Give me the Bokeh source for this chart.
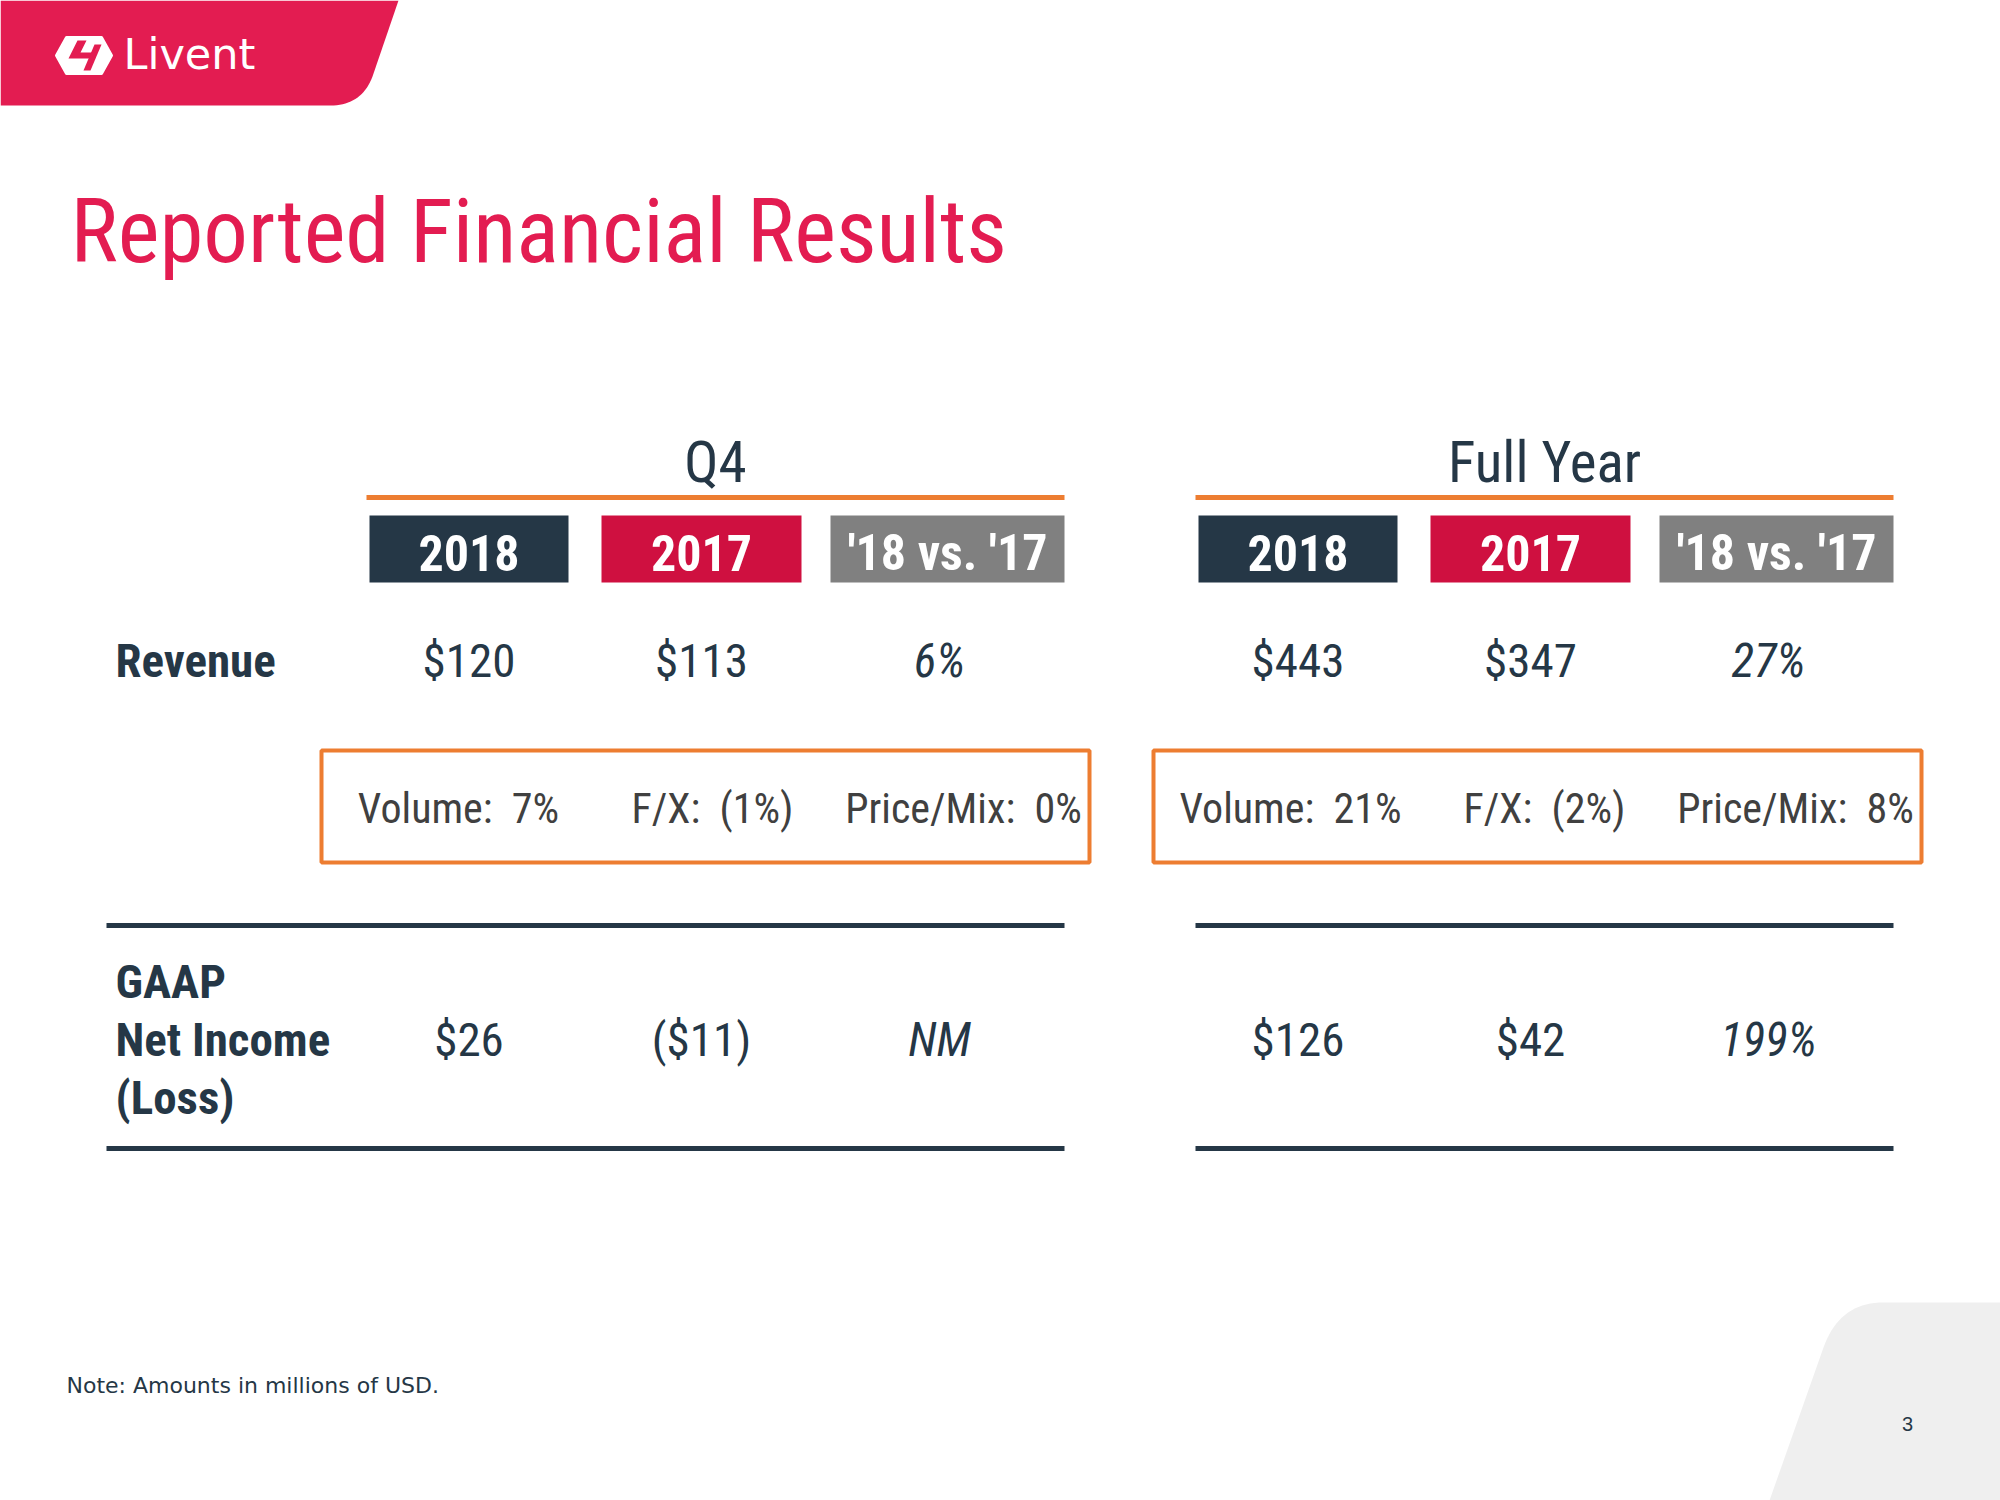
import numpy as np
from bokeh.plotting import figure
from bokeh.models import Range1d
from bokeh.core.properties import value
from bokeh.embed import file_html
from bokeh.resources import INLINE

# ---------------- data ----------------
periods = ["Q4", "Full Year"]
col_headers = ["2018", "2017", "'18 vs. '17"]
row_labels = ["Revenue", "GAAP", "Net Income", "(Loss)"]
revenue_q4 = ["$120", "$113", "6%"]
revenue_fy = ["$443", "$347", "27%"]
net_income_q4 = ["$26", "($11)", "NM"]
net_income_fy = ["$126", "$42", "199%"]
driver_labels = ["Volume:", "F/X:", "Price/Mix:"]
drivers_q4 = ["7%", "(1%)", "0%"]
drivers_fy = ["21%", "(2%)", "8%"]
title = "Reported Financial Results"
brand = "Livent"
note = "Note: Amounts in millions of USD."
page_no = "3"

# ---------------- style ----------------
NAVY = "#253746"
RED = "#CF1040"
BRAND = "#E31C51"
GRAY = "#808080"
ORANGE = "#ED7D31"
DRIVER_TXT = "#404040"
NARROW = value("Roboto Condensed, DejaVu Sans Condensed, Liberation Sans")
SANS = value("Liberation Sans")


def bl(y, fs):
    """screen baseline -> glyph y (compensates the renderer's baseline shift)"""
    return y - 0.35 * fs


W, H = 2000, 1500
p = figure(width=W, height=H, output_backend="svg", toolbar_location=None,
           x_range=Range1d(0, W), y_range=Range1d(H, 0),
           min_border=0, outline_line_color=None, background_fill_color="white",
           border_fill_color="white")
p.axis.visible = False
p.grid.visible = False


def qbez(p0, c, p1, n=20):
    t = np.linspace(0, 1, n)
    x = (1 - t) ** 2 * p0[0] + 2 * (1 - t) * t * c[0] + t ** 2 * p1[0]
    y = (1 - t) ** 2 * p0[1] + 2 * (1 - t) * t * c[1] + t ** 2 * p1[1]
    return list(x), list(y)

# ---------------- brand banner ----------------
bx, by = qbez((372, 76), (361, 105), (330, 105))
p.patch([0, 398] + bx + [0], [0, 0] + by + [105], fill_color=BRAND, line_color=None)
# logo hexagon
p.patch([56, 66, 101, 111, 101, 66], [55, 37, 37, 55, 73, 73],
        fill_color="white", line_color="white", line_width=3, line_join="round")
p.patch([77, 86, 80, 92, 89, 68], [40, 40, 52, 52, 58, 58], fill_color=BRAND, line_color=None)
p.patch([94, 101, 90, 83], [44, 44, 70, 70], fill_color=BRAND, line_color=None)
p.text(x=[123], y=[bl(69, 43)], text=[brand], text_font=value("DejaVu Sans"),
       text_font_size="43px", text_color="white", text_baseline="alphabetic",
       text_align="left")

# ---------------- page corner ----------------
cx, cy = qbez((1883, 1302), (1839, 1302), (1823, 1347))
p.patch([2000] + cx + [1769, 2000], [1302] + cy + [1500, 1500],
        fill_color="#EFEFEF", line_color=None)
p.text(x=[1907], y=[bl(1430, 20)], text=[page_no], text_font=SANS, text_font_size="20px",
       text_color=NAVY, text_align="center", text_baseline="alphabetic")

# ---------------- title / note ----------------
p.text(x=[70], y=[bl(262, 89)], text=[title], text_font=NARROW, text_font_size="89px",
       text_color=BRAND, text_baseline="alphabetic")
p.text(x=[66], y=[bl(1393, 22)], text=[note], text_font=value("DejaVu Sans"),
       text_font_size="22px", text_color=NAVY, text_baseline="alphabetic")

# ---------------- table layout ----------------
block_left = [366, 1195]
block_width = 698
box_off = [3, 235, 464]
box_w = [199, 200, 234]
box_colors = [NAVY, RED, GRAY]
col_center = [o + w / 2 for o, w in zip(box_off, box_w)]
driver_box = [(321, 1089), (1153, 1921)]
driver_centers = [137, 391, 642]

FS_PERIOD, FS_HEAD, FS_VAL, FS_DRV, FS_LAB = 57, 50, 47, 42, 47

rev = [revenue_q4, revenue_fy]
ni = [net_income_q4, net_income_fy]
drv = [drivers_q4, drivers_fy]

for b, x0 in enumerate(block_left):
    # period header
    p.text(x=[x0 + block_width / 2], y=[bl(482, FS_PERIOD)], text=[periods[b]],
           text_font=NARROW, text_font_size=f"{FS_PERIOD}px", text_color=NAVY,
           text_align="center", text_baseline="alphabetic")
    p.segment(x0=[x0], x1=[x0 + block_width], y0=[497], y1=[497],
              line_color=ORANGE, line_width=5)
    # column header boxes
    lefts = [x0 + o for o in box_off]
    p.quad(left=lefts, right=[l + w for l, w in zip(lefts, box_w)],
           top=[515] * 3, bottom=[582] * 3, fill_color=box_colors, line_color=None)
    centers = [x0 + c for c in col_center]
    p.text(x=centers, y=[bl(570, FS_HEAD)] * 3, text=col_headers, text_font=NARROW,
           text_font_size=f"{FS_HEAD}px", text_font_style="bold", text_color="white",
           text_align="center", text_baseline="alphabetic")
    # revenue values
    p.text(x=centers[:2], y=[bl(676, FS_VAL)] * 2, text=rev[b][:2], text_font=NARROW,
           text_font_size=f"{FS_VAL}px", text_color=NAVY, text_align="center",
           text_baseline="alphabetic")
    p.text(x=[centers[2] - 8], y=[bl(676, FS_VAL)], text=rev[b][2:], text_font=NARROW,
           text_font_size=f"{FS_VAL}px", text_font_style="italic", text_color=NAVY,
           text_align="center", text_baseline="alphabetic")
    # drivers box
    dl, dr = driver_box[b]
    p.quad(left=[dl], right=[dr], top=[750], bottom=[862], fill_color=None,
           line_color=ORANGE, line_width=4)
    p.text(x=[dl + c for c in driver_centers], y=[bl(823, FS_DRV)] * 3,
           text=[f"{a}\u00a0\u00a0{v}" for a, v in zip(driver_labels, drv[b])],
           text_font=NARROW, text_font_size=f"{FS_DRV}px", text_color=DRIVER_TXT,
           text_align="center", text_baseline="alphabetic")
    # net income rules
    lx0 = 106 if b == 0 else x0
    p.segment(x0=[lx0, lx0], x1=[x0 + block_width] * 2, y0=[925, 1148], y1=[925, 1148],
              line_color=NAVY, line_width=5)
    p.text(x=centers[:2], y=[bl(1055, FS_VAL)] * 2, text=ni[b][:2], text_font=NARROW,
           text_font_size=f"{FS_VAL}px", text_color=NAVY, text_align="center",
           text_baseline="alphabetic")
    p.text(x=[centers[2] - 8], y=[bl(1055, FS_VAL)], text=ni[b][2:], text_font=NARROW,
           text_font_size=f"{FS_VAL}px", text_font_style="italic", text_color=NAVY,
           text_align="center", text_baseline="alphabetic")

# row labels
p.text(x=[115] * 4, y=[bl(v, FS_LAB) for v in (676, 997, 1055, 1113)], text=row_labels,
       text_font=NARROW, text_font_size=f"{FS_LAB}px", text_font_style="bold",
       text_color=NAVY, text_baseline="alphabetic")

open("out.html", "w").write(file_html(p, INLINE))
